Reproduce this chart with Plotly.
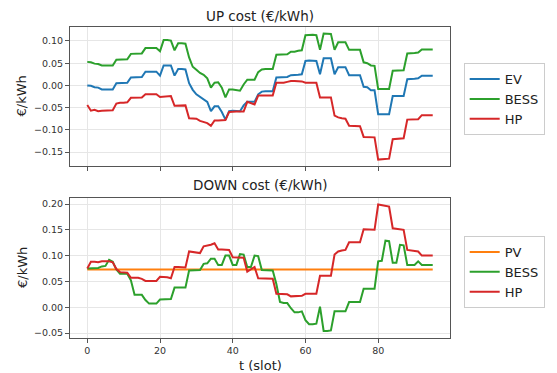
import plotly.graph_objects as go

t = list(range(96))

ev_up = [0.000, -0.001, -0.004, -0.005, -0.009, -0.009, -0.009, -0.009,
         0.005, 0.005, 0.005, 0.006, 0.018, 0.018, 0.018, 0.019,
         0.031, 0.031, 0.031, 0.031, 0.022, 0.045, 0.045, 0.045,
         0.022, 0.037, 0.037, 0.036, 0.005, -0.010, -0.020, -0.026,
         -0.030, -0.037, -0.058, -0.047, -0.047, -0.060, -0.077, -0.058,
         -0.057, -0.057, -0.058, -0.045, -0.037, -0.037, -0.037, -0.020,
         -0.014, -0.013, -0.013, -0.013, 0.018, 0.018, 0.018, 0.019,
         0.023, 0.023, 0.024, 0.025, 0.055, 0.056, 0.056, 0.055,
         0.025, 0.061, 0.061, 0.061, 0.025, 0.041, 0.041, 0.041,
         0.023, 0.023, 0.023, 0.023, -0.003, -0.004, -0.011, -0.011,
         -0.065, -0.065, -0.065, -0.065, -0.024, -0.024, -0.024, -0.024,
         0.014, 0.014, 0.015, 0.016, 0.022, 0.022, 0.022, 0.022]

bess_up = [0.053, 0.052, 0.049, 0.048, 0.045, 0.045, 0.045, 0.045,
           0.058, 0.058, 0.058, 0.059, 0.071, 0.071, 0.071, 0.072,
           0.084, 0.084, 0.084, 0.084, 0.077, 0.102, 0.102, 0.101,
           0.079, 0.095, 0.095, 0.094, 0.063, 0.042, 0.035, 0.028,
           0.024, 0.016, -0.005, 0.006, 0.007, -0.005, -0.027, -0.009,
           -0.009, -0.010, -0.012, 0.002, 0.013, 0.013, 0.013, 0.030,
           0.036, 0.037, 0.037, 0.037, 0.069, 0.069, 0.069, 0.070,
           0.076, 0.076, 0.078, 0.079, 0.113, 0.114, 0.114, 0.113,
           0.080, 0.117, 0.117, 0.116, 0.080, 0.097, 0.097, 0.097,
           0.080, 0.080, 0.080, 0.080, 0.052, 0.050, 0.045, 0.044,
           -0.008, -0.008, -0.008, -0.008, 0.033, 0.033, 0.033, 0.034,
           0.072, 0.072, 0.073, 0.074, 0.081, 0.081, 0.081, 0.081]

hp_up = [-0.044, -0.057, -0.055, -0.058, -0.057, -0.057, -0.057, -0.056,
         -0.041, -0.039, -0.039, -0.038, -0.028, -0.028, -0.028, -0.027,
         -0.020, -0.020, -0.020, -0.020, -0.026, -0.025, -0.025, -0.024,
         -0.046, -0.046, -0.046, -0.045, -0.074, -0.075, -0.075, -0.080,
         -0.083, -0.085, -0.091, -0.079, -0.079, -0.079, -0.078, -0.060,
         -0.059, -0.059, -0.059, -0.059, -0.037, -0.040, -0.043, -0.023,
         -0.023, -0.023, -0.023, -0.023, 0.006, 0.006, 0.006, 0.008,
         0.010, 0.010, 0.010, 0.009, 0.006, 0.006, 0.006, 0.006,
         -0.027, -0.027, -0.027, -0.027, -0.068, -0.072, -0.074, -0.075,
         -0.091, -0.091, -0.092, -0.092, -0.116, -0.116, -0.117, -0.117,
         -0.167, -0.166, -0.166, -0.165, -0.121, -0.120, -0.120, -0.119,
         -0.077, -0.077, -0.077, -0.076, -0.067, -0.067, -0.067, -0.067]

pv_down = [0.073] * 96

bess_down = [0.075, 0.075, 0.075, 0.076, 0.079, 0.080, 0.092, 0.088,
             0.073, 0.065, 0.065, 0.065, 0.052, 0.024, 0.024, 0.024,
             0.014, 0.007, 0.007, 0.007, 0.015, 0.015, 0.015, 0.016,
             0.038, 0.038, 0.038, 0.038, 0.071, 0.071, 0.071, 0.072,
             0.084, 0.085, 0.094, 0.094, 0.082, 0.082, 0.100, 0.100,
             0.082, 0.082, 0.103, 0.102, 0.078, 0.078, 0.100, 0.099,
             0.072, 0.072, 0.072, 0.071, 0.045, 0.010, 0.008, 0.008,
             -0.002, -0.010, -0.010, -0.008, -0.025, -0.033, -0.033, -0.032,
             0.001, -0.046, -0.046, -0.045, -0.008, -0.008, -0.008, -0.008,
             0.010, 0.010, 0.010, 0.010, 0.036, 0.036, 0.036, 0.036,
             0.089, 0.090, 0.129, 0.128, 0.086, 0.086, 0.121, 0.120,
             0.082, 0.082, 0.082, 0.089, 0.082, 0.082, 0.082, 0.082]

hp_down = [0.075, 0.088, 0.088, 0.087, 0.089, 0.089, 0.089, 0.087,
           0.074, 0.068, 0.068, 0.067, 0.057, 0.057, 0.057, 0.055,
           0.051, 0.051, 0.051, 0.051, 0.059, 0.059, 0.058, 0.056,
           0.078, 0.078, 0.078, 0.077, 0.108, 0.107, 0.107, 0.105,
           0.118, 0.119, 0.121, 0.124, 0.112, 0.112, 0.112, 0.111,
           0.097, 0.097, 0.097, 0.096, 0.069, 0.074, 0.078, 0.056,
           0.056, 0.056, 0.056, 0.055, 0.026, 0.026, 0.026, 0.025,
           0.021, 0.021, 0.021, 0.022, 0.026, 0.026, 0.026, 0.026,
           0.061, 0.061, 0.061, 0.061, 0.102, 0.108, 0.110, 0.111,
           0.126, 0.126, 0.127, 0.126, 0.151, 0.151, 0.150, 0.150,
           0.199, 0.198, 0.197, 0.195, 0.153, 0.152, 0.152, 0.150,
           0.111, 0.110, 0.110, 0.108, 0.100, 0.100, 0.100, 0.100]

x_ticks = [0, 20, 40, 60, 80]
y_ticks_up = [-0.15, -0.10, -0.05, 0.00, 0.05, 0.10]
y_ticks_down = [-0.05, 0.00, 0.05, 0.10, 0.15, 0.20]


def fmt(v):
    s = f"{abs(v):.2f}"
    return ("\u2212" + s) if v < -1e-9 else s


C_EV = "#1f77b4"
C_BESS = "#2ca02c"
C_HP = "#d62728"
C_PV = "#ff7f0e"
LW = 2

fig = go.Figure()
fig.add_trace(go.Scatter(x=t, y=ev_up, mode="lines", name="EV",
                         line=dict(color=C_EV, width=LW), xaxis="x", yaxis="y", legend="legend"))
fig.add_trace(go.Scatter(x=t, y=bess_up, mode="lines", name="BESS",
                         line=dict(color=C_BESS, width=LW), xaxis="x", yaxis="y", legend="legend"))
fig.add_trace(go.Scatter(x=t, y=hp_up, mode="lines", name="HP",
                         line=dict(color=C_HP, width=LW), xaxis="x", yaxis="y", legend="legend"))
fig.add_trace(go.Scatter(x=t, y=pv_down, mode="lines", name="PV",
                         line=dict(color=C_PV, width=LW), xaxis="x2", yaxis="y2", legend="legend2"))
fig.add_trace(go.Scatter(x=t, y=bess_down, mode="lines", name="BESS",
                         line=dict(color=C_BESS, width=LW), xaxis="x2", yaxis="y2", legend="legend2"))
fig.add_trace(go.Scatter(x=t, y=hp_down, mode="lines", name="HP",
                         line=dict(color=C_HP, width=LW), xaxis="x2", yaxis="y2", legend="legend2"))

FONT = "DejaVu Sans"
axis_common = dict(showline=True, mirror=True, linecolor="#555555", linewidth=1,
                   showgrid=True, gridcolor="#e6e6e6", gridwidth=1, zeroline=False,
                   ticks="outside", ticklen=4, tickcolor="#555555",
                   tickfont=dict(family=FONT, size=9.5, color="#333333"))

top_dom = [0.553, 1.0]
bot_dom = [0.0, 0.450]
xr = [-4.75, 99.75]

# page body has an 8px margin, so the figure is shifted by (8, 8) in the window
fig.update_layout(
    width=549, height=365,
    margin=dict(l=62, r=103, t=19, b=35),
    paper_bgcolor="white", plot_bgcolor="white",
    font=dict(family=FONT, color="#222222"),
    xaxis=dict(domain=[0, 1], anchor="y", range=xr, tickvals=x_ticks,
               showticklabels=False, **axis_common),
    yaxis=dict(domain=top_dom, anchor="x", range=[-0.1815, 0.1315],
               tickvals=y_ticks_up, ticktext=[fmt(v) for v in y_ticks_up], **axis_common),
    xaxis2=dict(domain=[0, 1], anchor="y2", range=xr, tickvals=x_ticks,
                ticktext=[str(v) for v in x_ticks], **axis_common),
    yaxis2=dict(domain=bot_dom, anchor="x2", range=[-0.0597, 0.2116],
                tickvals=y_ticks_down, ticktext=[fmt(v) for v in y_ticks_down], **axis_common),
    legend=dict(x=1.036, y=0.884, xanchor="left", yanchor="top",
                bordercolor="#cccccc", borderwidth=1, bgcolor="white",
                font=dict(family=FONT, size=13, color="#222222"), itemwidth=30),
    legend2=dict(x=1.036, y=0.328, xanchor="left", yanchor="top",
                 bordercolor="#cccccc", borderwidth=1, bgcolor="white",
                 font=dict(family=FONT, size=13, color="#222222"), itemwidth=30),
    showlegend=True,
)

annots = [
    dict(text="UP cost (€/kWh)", x=0.5, xref="paper", y=1.0, yref="paper",
         yshift=1, xanchor="center", yanchor="bottom", showarrow=False,
         font=dict(family=FONT, size=13.5, color="#222222")),
    dict(text="DOWN cost (€/kWh)", x=0.5, xref="paper", y=bot_dom[1], yref="paper",
         yshift=3, xanchor="center", yanchor="bottom", showarrow=False,
         font=dict(family=FONT, size=13.5, color="#222222")),
    dict(text="t (slot)", x=0.5, xref="paper", y=0, yref="paper",
         yshift=-18, xanchor="center", yanchor="top", showarrow=False,
         font=dict(family=FONT, size=13, color="#222222")),
    dict(text="€/kWh", x=0, xref="paper", y=(top_dom[0] + top_dom[1]) / 2, yref="paper",
         xshift=-48, xanchor="center", yanchor="middle", textangle=-90, showarrow=False,
         font=dict(family=FONT, size=13, color="#222222")),
    dict(text="€/kWh", x=0, xref="paper", y=(bot_dom[0] + bot_dom[1]) / 2, yref="paper",
         xshift=-48, xanchor="center", yanchor="middle", textangle=-90, showarrow=False,
         font=dict(family=FONT, size=13, color="#222222")),
]
fig.update_layout(annotations=annots)

fig.write_html("out.html")
